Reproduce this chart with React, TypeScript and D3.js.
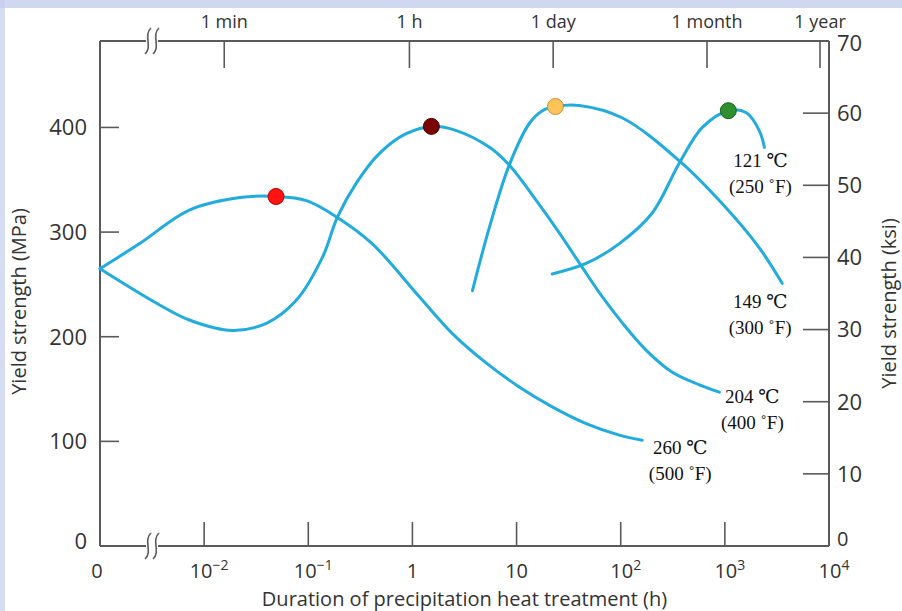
import * as d3 from 'd3'

// plot box in the 902x611 frame
const width = 902
const height = 611
const margin = { top: 41, right: 73, bottom: 65, left: 100 }
const innerRight = width - margin.right
const innerBottom = height - margin.bottom

// time in hours (0 is drawn at the axis break), strength in MPa
const hours260 = [0, 0.0024, 0.0072, 0.022, 0.049, 0.096, 0.19, 0.41, 1.17, 2.42, 5.1, 10.6, 22, 46.5, 97, 161]
const mpa260 = [265, 289, 321, 333, 334, 330, 314, 289, 238, 203, 175, 152, 133, 117, 106, 101]

const hours204 = [0, 0.0035, 0.0072, 0.0187, 0.04, 0.077, 0.137, 0.19, 0.29, 0.48, 0.87, 1.52, 2.64, 5.5, 8.5, 15.5, 25.8, 42.9, 66.7, 104, 176, 313, 569, 885]
const mpa204 = [265, 232, 216, 206, 213, 235, 276, 314, 347, 375, 394, 401, 397, 381, 364, 330, 299, 266, 238, 213, 187, 166, 154, 147]

const hours149 = [3.77, 5.5, 8.5, 13.3, 17.7, 23.6, 40, 104, 366, 946, 2140, 3550]
const mpa149 = [244, 305, 364, 404, 416, 420, 421, 409, 368, 327, 285, 251]

const hours121 = [22, 46.5, 97, 200, 366, 608, 1080, 1610, 2140, 2400]
const mpa121 = [260, 270, 289, 318, 366, 400, 416, 414, 397, 381]

const curveNames = ['260', '204', '149', '121']
const curveHours = [hours260, hours204, hours149, hours121]
const curveMpa = [mpa260, mpa204, mpa149, mpa121]
const tempC = ['260 ℃', '204 ℃', '149 ℃', '121 ℃']
const tempF = ['(500 ˚F)', '(400 ˚F)', '(300 ˚F)', '(250 ˚F)']
const labelOffset = [[38, 14], [33, 11], [-22, 25], [-4, 20]]

// maximum of each curve
const peakHours = [0.049, 1.52, 23.6, 1080]
const peakMpa = [334, 401, 420, 416]
const peakColors = ['#ff1212', '#7a0404', '#fcc458', '#2e8f2e']
const peakStrokes = ['#b80000', '#4a0000', '#c8902a', '#1d5e1d']

const mpaTicks = [100, 200, 300, 400]
const ksiTicks = [10, 20, 30, 40, 50, 60]
const ksiLabels = [0, 10, 20, 30, 40, 50, 60, 70]
const bottomTicks = [1e-2, 1e-1, 1, 10, 100, 1000]
const bottomLabels = [
  { v: 1e-2, base: '10', sup: '−2' },
  { v: 1e-1, base: '10', sup: '−1' },
  { v: 1, base: '1', sup: '' },
  { v: 10, base: '10', sup: '' },
  { v: 100, base: '10', sup: '2' },
  { v: 1000, base: '10', sup: '3' },
  { v: 1e4, base: '10', sup: '4' },
]
const topHours = [1 / 60, 1, 24, 720, 8760]
const topLabels = ['1 min', '1 h', '1 day', '1 month', '1 year']

const axisColor = '#5a5a5a'
const textColor = '#333'
const lineColor = '#22abdd'
const sans = '"Open Sans", "Liberation Sans", sans-serif'
const serif = '"Liberation Serif", "DejaVu Serif", serif'

const App = () => {
  const x = d3.scaleLog().domain([1e-3, 1e4]).range([margin.left, innerRight])
  const xPos = (h: number) => (h === 0 ? x(1e-3) : x(h))
  const y = d3.scaleLinear().domain([0, 482.6]).range([innerBottom, margin.top])
  const yKsi = d3.scaleLinear().domain([0, 70]).range([innerBottom, margin.top])

  const line = d3.line<[number, number]>()
    .x(d => xPos(d[0]))
    .y(d => y(d[1]))
    .curve(d3.curveCatmullRom.alpha(0.5))

  const breakPath = (cx: number, cy: number) =>
    `M${cx + 3},${cy - 13} C${cx - 5},${cy - 6} ${cx + 5},${cy + 6} ${cx - 3},${cy + 13}`

  return (
    <svg width={width} height={height} style={{ position: 'absolute', left: 0, top: 0, background: '#fff' }}>
      {/* faint watermark band of the source image */}
      <rect x={0} y={0} width={width} height={8} fill='#c4cdec' opacity={0.8} />
      <rect x={0} y={0} width={5} height={height} fill='#c4cdec' opacity={0.7} />

      {/* frame */}
      <g stroke={axisColor} strokeWidth={2} fill='none'>
        <line x1={margin.left} y1={margin.top} x2={margin.left} y2={innerBottom} />
        <line x1={margin.left} y1={innerBottom} x2={innerRight} y2={innerBottom} />
        <line x1={innerRight} y1={margin.top} x2={innerRight} y2={innerBottom} />
        <line x1={margin.left} y1={margin.top} x2={innerRight} y2={margin.top} />
      </g>

      {/* axis breaks */}
      {[margin.top, innerBottom].map(by => (
        <g key={by}>
          <rect x={146} y={by - 3} width={12} height={6} fill='#fff' />
          <path d={breakPath(148, by)} stroke={axisColor} strokeWidth={1.6} fill='none' />
          <path d={breakPath(156, by)} stroke={axisColor} strokeWidth={1.6} fill='none' />
        </g>
      ))}

      {/* left MPa axis */}
      {mpaTicks.map(v => (
        <line key={v} x1={margin.left} x2={margin.left + 19} y1={y(v)} y2={y(v)} stroke={axisColor} strokeWidth={1.6} />
      ))}
      {[0, ...mpaTicks].map(v => (
        <text key={v} x={87} y={y(v) + (v === 0 ? -5 : 0)} dy='.36em' textAnchor='end'
          fontFamily={sans} fontSize={22} fill={textColor}>{v}</text>
      ))}
      <text transform={`translate(26,${(margin.top + innerBottom) / 2 + 8}) rotate(-90)`} textAnchor='middle'
        fontFamily={sans} fontSize={20} fill={textColor}>Yield strength (MPa)</text>

      {/* right ksi axis */}
      {ksiTicks.map(v => (
        <line key={v} x1={innerRight - 26} x2={innerRight} y1={yKsi(v)} y2={yKsi(v)} stroke={axisColor} strokeWidth={1.6} />
      ))}
      {ksiLabels.map(v => (
        <text key={v} x={837} y={yKsi(v) + (v === 0 ? -7 : v === 70 ? 2 : 0)} dy='.36em'
          fontFamily={sans} fontSize={v === 0 ? 20 : 22} fill={textColor}>{v}</text>
      ))}
      <text transform={`translate(896,${(margin.top + innerBottom) / 2 + 10}) rotate(-90)`} textAnchor='middle'
        fontFamily={sans} fontSize={20} fill={textColor}>Yield strength (ksi)</text>

      {/* bottom time axis */}
      {bottomTicks.map(v => (
        <line key={v} x1={x(v)} x2={x(v)} y1={innerBottom} y2={innerBottom - 24} stroke={axisColor} strokeWidth={1.6} />
      ))}
      <text x={x(1e-3) - 3} y={578} textAnchor='middle' fontFamily={sans} fontSize={20} fill={textColor}>0</text>
      {bottomLabels.map(d => (
        <text key={d.v} x={x(d.v) + (d.sup ? 5 : 0)} y={578} textAnchor='middle' fontFamily={sans} fontSize={20} fill={textColor}>
          {d.base}
          {d.sup && <tspan dy={-8} fontSize={14}>{d.sup}</tspan>}
        </text>
      ))}
      <text x={(margin.left + innerRight) / 2} y={606} textAnchor='middle' fontFamily={sans} fontSize={20} fill={textColor}>
        Duration of precipitation heat treatment (h)
      </text>

      {/* top time axis */}
      {topHours.map((h, i) => (
        <g key={topLabels[i]} transform={`translate(${x(h) - 3},0)`}>
          <line y1={margin.top} y2={margin.top + 27} stroke={axisColor} strokeWidth={1.6} />
          <text y={28} textAnchor='middle' fontFamily={sans} fontSize={18} fill={textColor}>{topLabels[i]}</text>
        </g>
      ))}

      {/* curves */}
      {curveNames.map((name, i) => {
        const pts = curveHours[i].map((h, j) => [h, curveMpa[i][j]] as [number, number])
        const last = pts[pts.length - 1]
        const lx = xPos(last[0]) + labelOffset[i][0]
        const ly = y(last[1]) + labelOffset[i][1]
        return (
          <g key={name}>
            <path d={line(pts) ?? ''} fill='none' stroke={lineColor} strokeWidth={3} strokeLinecap='round' />
            <text x={lx} y={ly} textAnchor='middle' fontFamily={serif} fontSize={19} fill='#111'>{tempC[i]}</text>
            <text x={lx} y={ly + 26} textAnchor='middle' fontFamily={serif} fontSize={19} fill='#111'>{tempF[i]}</text>
          </g>
        )
      })}

      {/* peaks */}
      {peakHours.map((h, i) => (
        <circle key={h} cx={x(h)} cy={y(peakMpa[i])} r={8} fill={peakColors[i]} stroke={peakStrokes[i]} strokeWidth={1} />
      ))}
    </svg>
  )
}

export default App
